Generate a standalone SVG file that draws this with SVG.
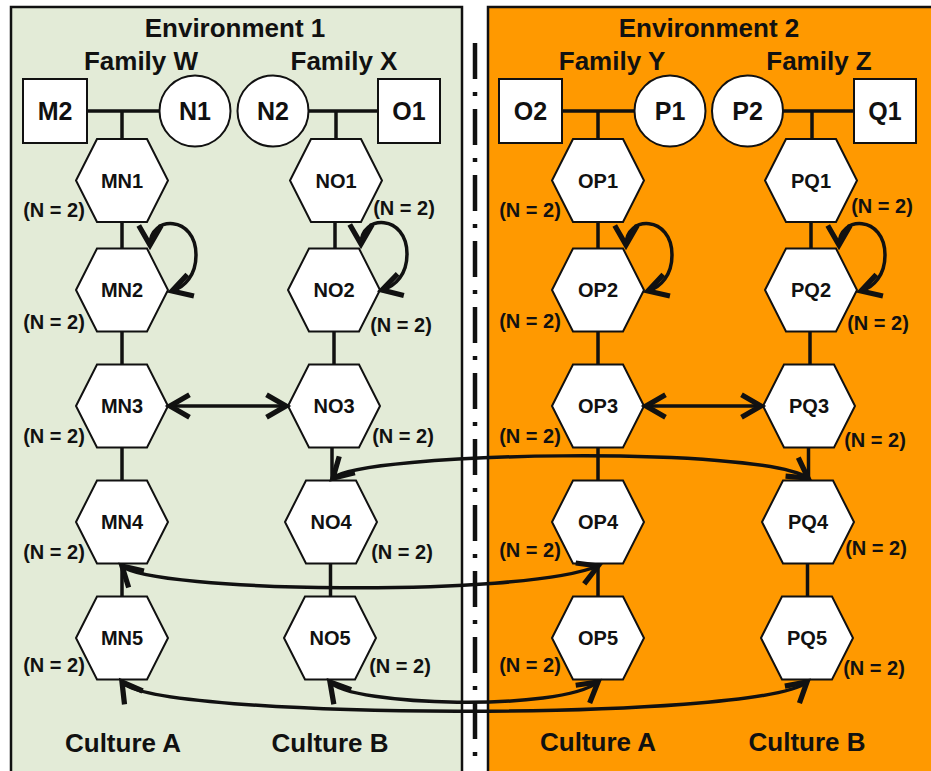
<svg xmlns="http://www.w3.org/2000/svg" width="931" height="771" viewBox="0 0 931 771">
<style>
text{font-family:"Liberation Sans",Arial,sans-serif;font-weight:bold;fill:#111;text-anchor:middle}
.title{font-size:26px}
.sq{font-size:25px}
.hl{font-size:20px}
.cnt{font-size:20px}
.box{fill:#fff;stroke:#111;stroke-width:2}
.con{fill:none;stroke:#111;stroke-width:3.5}
.arr{fill:none;stroke:#111;stroke-width:3.5;marker-start:url(#v);marker-end:url(#v)}
.arr1{fill:none;stroke:#111;stroke-width:3.5;marker-end:url(#v)}
</style>
<defs>
<marker id="v" markerUnits="userSpaceOnUse" markerWidth="30" markerHeight="30" viewBox="-16 -10 20 20" refX="0" refY="0" orient="auto-start-reverse">
<path d="M-13,-7.5 L0,0 L-13,7.5" fill="none" stroke="#111" stroke-width="3.5" stroke-linejoin="miter"/>
</marker>
<polygon id="hex" points="-46,0 -25,-41.5 25,-41.5 46,0 25,41.5 -25,41.5"/>
</defs>
<rect width="931" height="771" fill="#fff"/>
<g id="panel1">
<rect x="11" y="7" width="451" height="770" fill="#e3ebd7" stroke="#111" stroke-width="2.5"/>
<text class="title" x="235" y="37">Environment 1</text>
<text class="title" x="141" y="70">Family W</text>
<text class="title" x="344" y="70">Family X</text>
<text class="title" x="123" y="752">Culture A</text>
<text class="title" x="330" y="752">Culture B</text>
</g>
<g id="panel2">
<rect x="488" y="7" width="450" height="770" fill="#ff9900" stroke="#111" stroke-width="2.5"/>
<text class="title" x="709" y="37">Environment 2</text>
<text class="title" x="612" y="70">Family Y</text>
<text class="title" x="819" y="70">Family Z</text>
<text class="title" x="598" y="751">Culture A</text>
<text class="title" x="807" y="751">Culture B</text>
</g>
<line id="divider" x1="475" y1="43" x2="475" y2="768" stroke="#111" stroke-width="4.5" stroke-dasharray="36 13 4 13"/>

<g id="pedigree-lines" class="con">
<line x1="87" y1="111" x2="160" y2="111"/><line x1="122" y1="111" x2="122" y2="139"/>
<line x1="308" y1="111" x2="378" y2="111"/><line x1="336" y1="111" x2="336" y2="139"/>
<line x1="562" y1="111" x2="635" y2="111"/><line x1="598" y1="111" x2="598" y2="139"/>
<line x1="783" y1="111" x2="854" y2="111"/><line x1="812" y1="111" x2="812" y2="139"/>
</g>

<g id="M2"><rect class="box" x="23" y="79" width="64" height="64"/><text class="sq" x="55" y="120">M2</text></g>
<g id="N1"><circle class="box" cx="195" cy="111" r="35.5"/><text class="sq" x="195" y="120">N1</text></g>
<g id="N2"><circle class="box" cx="273" cy="111" r="35.5"/><text class="sq" x="273" y="120">N2</text></g>
<g id="O1"><rect class="box" x="378" y="79" width="62" height="64"/><text class="sq" x="409" y="120">O1</text></g>
<g id="O2"><rect class="box" x="499" y="79" width="63" height="64"/><text class="sq" x="530.5" y="120">O2</text></g>
<g id="P1"><circle class="box" cx="670" cy="111" r="35.5"/><text class="sq" x="670" y="120">P1</text></g>
<g id="P2"><circle class="box" cx="747.5" cy="111" r="35.5"/><text class="sq" x="747.5" y="120">P2</text></g>
<g id="Q1"><rect class="box" x="854" y="79" width="62" height="64"/><text class="sq" x="885" y="120">Q1</text></g>

<g id="MN1"><use href="#hex" class="box" x="122" y="180.5"/><text class="hl" x="122" y="188">MN1</text><text class="cnt" x="54" y="217">(N = 2)</text></g>
<g id="MN2"><use href="#hex" class="box" x="122" y="290"/><text class="hl" x="122" y="297">MN2</text><text class="cnt" x="54" y="329">(N = 2)</text></g>
<g id="MN3"><use href="#hex" class="box" x="122" y="406"/><text class="hl" x="122" y="413">MN3</text><text class="cnt" x="54" y="443">(N = 2)</text></g>
<g id="MN4"><use href="#hex" class="box" x="122" y="522"/><text class="hl" x="122" y="529">MN4</text><text class="cnt" x="54" y="559">(N = 2)</text></g>
<g id="MN5"><use href="#hex" class="box" x="122" y="638"/><text class="hl" x="122" y="645">MN5</text><text class="cnt" x="54" y="672">(N = 2)</text></g>

<g id="NO1"><use href="#hex" class="box" x="336" y="180.5"/><text class="hl" x="336" y="188">NO1</text><text class="cnt" x="404" y="215">(N = 2)</text></g>
<g id="NO2"><use href="#hex" class="box" x="334" y="290"/><text class="hl" x="334" y="297">NO2</text><text class="cnt" x="401" y="332">(N = 2)</text></g>
<g id="NO3"><use href="#hex" class="box" x="334" y="406"/><text class="hl" x="334" y="413">NO3</text><text class="cnt" x="403" y="443">(N = 2)</text></g>
<g id="NO4"><use href="#hex" class="box" x="331" y="522"/><text class="hl" x="331" y="529">NO4</text><text class="cnt" x="402" y="559">(N = 2)</text></g>
<g id="NO5"><use href="#hex" class="box" x="330" y="638"/><text class="hl" x="330" y="645">NO5</text><text class="cnt" x="400" y="673">(N = 2)</text></g>

<g id="OP1"><use href="#hex" class="box" x="598" y="180.5"/><text class="hl" x="598" y="188">OP1</text><text class="cnt" x="530" y="217">(N = 2)</text></g>
<g id="OP2"><use href="#hex" class="box" x="598" y="290"/><text class="hl" x="598" y="297">OP2</text><text class="cnt" x="530" y="328">(N = 2)</text></g>
<g id="OP3"><use href="#hex" class="box" x="598" y="406"/><text class="hl" x="598" y="413">OP3</text><text class="cnt" x="530" y="443">(N = 2)</text></g>
<g id="OP4"><use href="#hex" class="box" x="598" y="522"/><text class="hl" x="598" y="529">OP4</text><text class="cnt" x="530" y="557">(N = 2)</text></g>
<g id="OP5"><use href="#hex" class="box" x="598" y="638"/><text class="hl" x="598" y="645">OP5</text><text class="cnt" x="530" y="672">(N = 2)</text></g>

<g id="PQ1"><use href="#hex" class="box" x="811" y="180.5"/><text class="hl" x="811" y="188">PQ1</text><text class="cnt" x="882" y="213">(N = 2)</text></g>
<g id="PQ2"><use href="#hex" class="box" x="811" y="290"/><text class="hl" x="811" y="297">PQ2</text><text class="cnt" x="878" y="330">(N = 2)</text></g>
<g id="PQ3"><use href="#hex" class="box" x="809" y="406"/><text class="hl" x="809" y="413">PQ3</text><text class="cnt" x="875" y="447">(N = 2)</text></g>
<g id="PQ4"><use href="#hex" class="box" x="808" y="522"/><text class="hl" x="808" y="529">PQ4</text><text class="cnt" x="876" y="555">(N = 2)</text></g>
<g id="PQ5"><use href="#hex" class="box" x="807" y="638"/><text class="hl" x="807" y="645">PQ5</text><text class="cnt" x="874" y="675">(N = 2)</text></g>

<g id="connectors">
<g class="con">
<line x1="122" y1="222" x2="122" y2="248.5"/><line x1="122" y1="331.5" x2="122" y2="364.5"/><line x1="122" y1="447.5" x2="122" y2="480.5"/><line x1="122" y1="563.5" x2="122" y2="596.5"/>
<line x1="335" y1="222" x2="335" y2="248.5"/><line x1="334" y1="331.5" x2="334" y2="364.5"/><line x1="332" y1="447.5" x2="332" y2="480.5"/><line x1="330.5" y1="563.5" x2="330.5" y2="596.5"/>
<line x1="598" y1="222" x2="598" y2="248.5"/><line x1="598" y1="331.5" x2="598" y2="364.5"/><line x1="598" y1="447.5" x2="598" y2="480.5"/><line x1="598" y1="563.5" x2="598" y2="596.5"/>
<line x1="811" y1="222" x2="811" y2="248.5"/><line x1="810" y1="331.5" x2="810" y2="364.5"/><line x1="808.5" y1="447.5" x2="808.5" y2="480.5"/><line x1="807.5" y1="563.5" x2="807.5" y2="596.5"/>
</g>
<path class="arr" d="M150,245 C150,215 196,215 196,255 C196,275 185,287 172,291"/>
<path class="arr" d="M361,244 C361,214 407,214 407,254 C407,274 396,286 382,290"/>
<path class="arr" d="M626,245 C626,215 672,215 672,255 C672,275 661,287 648,291"/>
<path class="arr" d="M839,245 C839,215 885,215 885,255 C885,275 874,287 861,291"/>
<path class="arr" d="M170,406 L286,406"/>
<path class="arr" d="M646,406 L761,406"/>
<path class="arr" d="M333,478 C360,452 760,445 808,478"/>
<path class="arr" d="M122,566 C150,592 520,598 598,566"/>
<path class="arr" d="M330,682 C350,706 560,712 598,682"/>
<path class="arr" d="M122,682 C150,720 760,722 807,682"/>
</g>
</svg>
